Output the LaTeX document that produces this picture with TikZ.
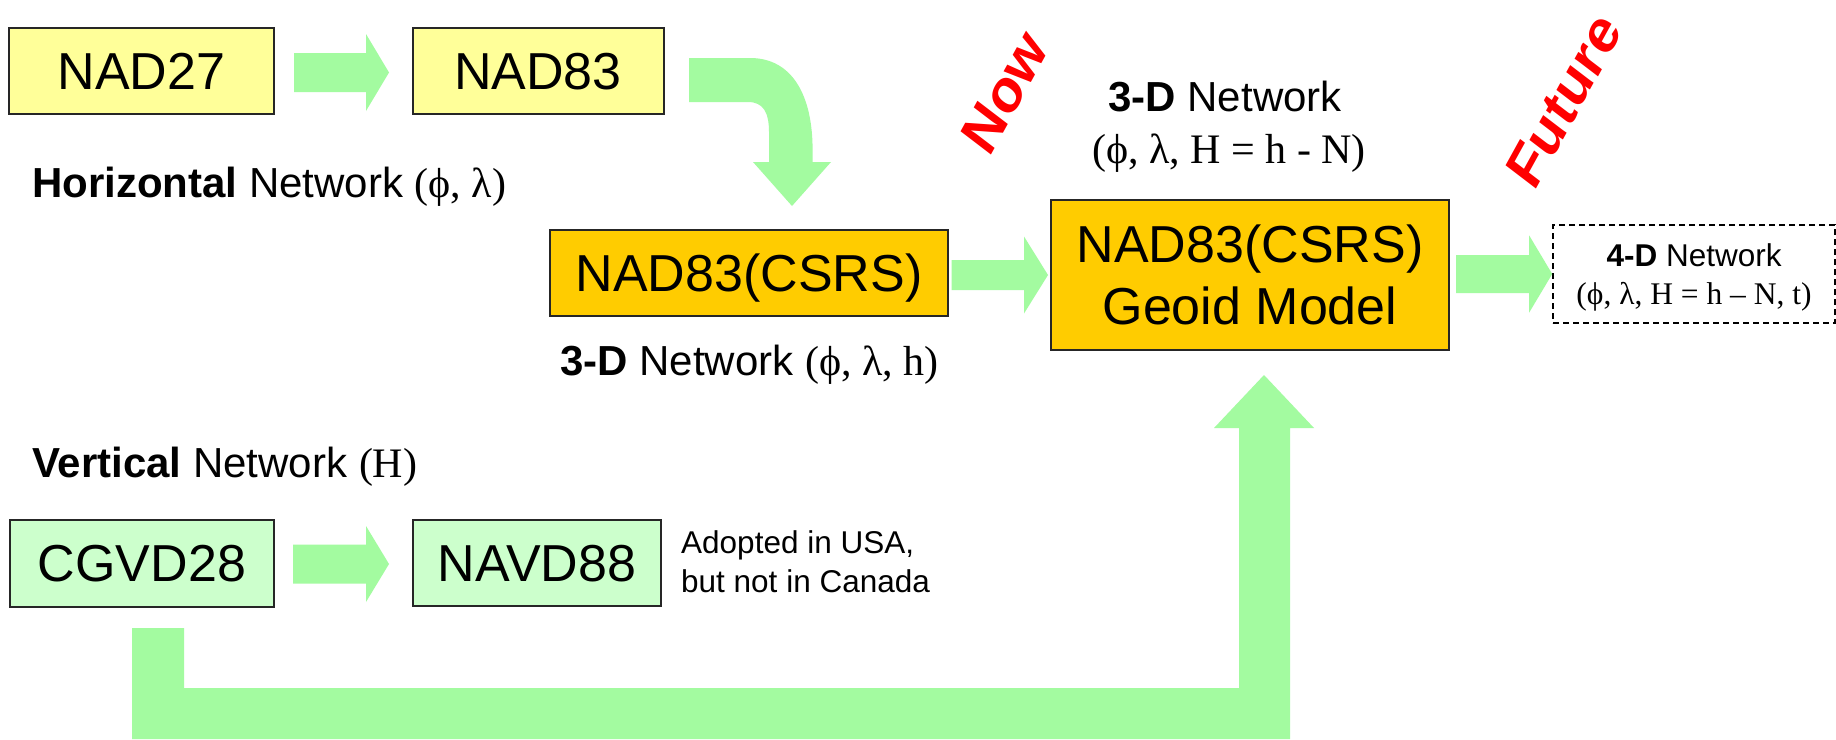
\documentclass[tikz,border=0pt]{standalone}
\usepackage{fontspec}
\setmainfont{Liberation Sans}
\newfontfamily\tnr{Liberation Serif}
\usetikzlibrary{calc}
\definecolor{arrowgreen}{RGB}{163,251,160}
\definecolor{boxyellow}{RGB}{255,255,153}
\definecolor{boxorange}{RGB}{255,204,0}
\definecolor{boxgreen}{RGB}{204,255,204}
\definecolor{tagred}{RGB}{255,0,0}
\newcommand\blockarr[5]{\fill[arrowgreen] ($#1+(0,-#3)$) -- ($#2+(-#5,-#3)$) -- ($#2+(-#5,-#4)$) -- #2 -- ($#2+(-#5,#4)$) -- ($#2+(-#5,#3)$) -- ($#1+(0,#3)$) -- cycle;}
\begin{document}
\begin{tikzpicture}[x=1pt,y=-1pt,
  box/.style={draw=black!85,line width=2pt,inner sep=0pt,text depth=0pt,align=center},
  big/.style={font=\fontsize{52}{62}\selectfont},
  lbl/.style={inner sep=0pt,font=\fontsize{42}{52}\selectfont},
  small/.style={inner sep=0pt,font=\fontsize{31.5}{38}\selectfont},
  tag/.style={inner sep=0pt,text=tagred}]
\useasboundingbox (0,0) rectangle (1836,739);
\fill[white] (0,0) rectangle (1836,739);

% boxes
\node[box,big,fill=boxyellow,minimum width=265,minimum height=86] (nad27) at (141.5,71) {NAD27};
\node[box,big,fill=boxyellow,minimum width=251,minimum height=86] (nad83) at (538,71) {NAD83};
\node[box,big,fill=boxorange,minimum width=398,minimum height=86] (csrs) at (749,273) {NAD83(CSRS)};
\node[box,big,fill=boxorange,minimum width=398,minimum height=150] (geoid) at (1250,275) {NAD83(CSRS)\\Geoid Model};
\node[box,small,draw=black,line width=1.6pt,dash pattern=on 6pt off 4pt,minimum width=282,minimum height=98] (fourd) at (1694,274)
  {\textbf{4-D} Network\\{\tnr(ϕ, λ, H = h – N, t)}};
\node[box,big,fill=boxgreen,minimum width=264,minimum height=87] (cgvd) at (142,563.5) {CGVD28};
\node[box,big,fill=boxgreen,minimum width=248,minimum height=86] (navd) at (537,563) {NAVD88};

% labels
\node[lbl,anchor=base west] (hlab) at (32,197) {\textbf{Horizontal} Network {\tnr(ϕ, λ)}};
\node[lbl,anchor=base west] (mlab) at (560,375) {\textbf{3-D} Network {\tnr(ϕ, λ, h)}};
\node[lbl,anchor=base] (tlab1) at (1225,111) {\textbf{3-D} Network};
\node[lbl,anchor=base] (tlab2) at (1229,163) {\tnr(ϕ, λ, H = h - N)};
\node[lbl,anchor=base west] (vlab) at (32,477) {\textbf{Vertical} Network {\tnr(H)}};
\node[small,anchor=base west] (adopt1) at (681,553) {Adopted in USA,};
\node[small,anchor=base west] (adopt2) at (681,592) {but not in Canada};

% rotated tags
\node[tag] (now) at (1005,92) {\scalebox{0.85}[1]{\rotatebox{57}{\fontsize{62}{62}\selectfont\bfseries Now}}};
\node[tag] (future) at (1564,100.5) {\scalebox{0.85}[1]{\rotatebox{57}{\fontsize{62}{62}\selectfont\bfseries Future}}};

% straight block arrows
\coordinate (a1t) at ($(nad27.east)+(19,1.5)$);
\coordinate (a1h) at ($(nad83.west)+(-22.5,1.5)$);
\blockarr{(a1t)}{(a1h)}{19.5}{38.5}{23}
\coordinate (a2t) at ($(csrs.east)+(2.5,2)$);
\coordinate (a2h) at ($(geoid.west)+(-2,0)$);
\blockarr{(a2t)}{(a2h)}{15}{38.5}{24}
\coordinate (a3t) at ($(geoid.east)+(6,-1)$);
\coordinate (a3h) at (fourd.west);
\blockarr{(a3t)}{(a3h)}{19}{38.5}{23}
\coordinate (a4t) at ($(cgvd.east)+(18,0.5)$);
\coordinate (a4h) at ($(navd.west)+(-23,1)$);
\blockarr{(a4t)}{(a4h)}{19.5}{38}{23}

% curved arrow NAD83 -> NAD83(CSRS)
\fill[arrowgreen] (689,58) -- (750,58) .. controls (792,58) and (812.6,95) .. (812.6,150)
  -- (812.6,162) -- (831,162) -- (792,206) -- (753,162) -- (769,162) -- (769,132)
  .. controls (769,112) and (763,102) .. (748,102) -- (689,102) -- cycle;

% L-shaped arrow CGVD28 -> Geoid
\fill[arrowgreen] (132,628) -- (184,628) -- (184,688) -- (1239,688) -- (1239,428) -- (1214,428)
  -- (1264,375) -- (1314,428) -- (1290,428) -- (1290,739) -- (132,739) -- cycle;
\end{tikzpicture}
\end{document}
